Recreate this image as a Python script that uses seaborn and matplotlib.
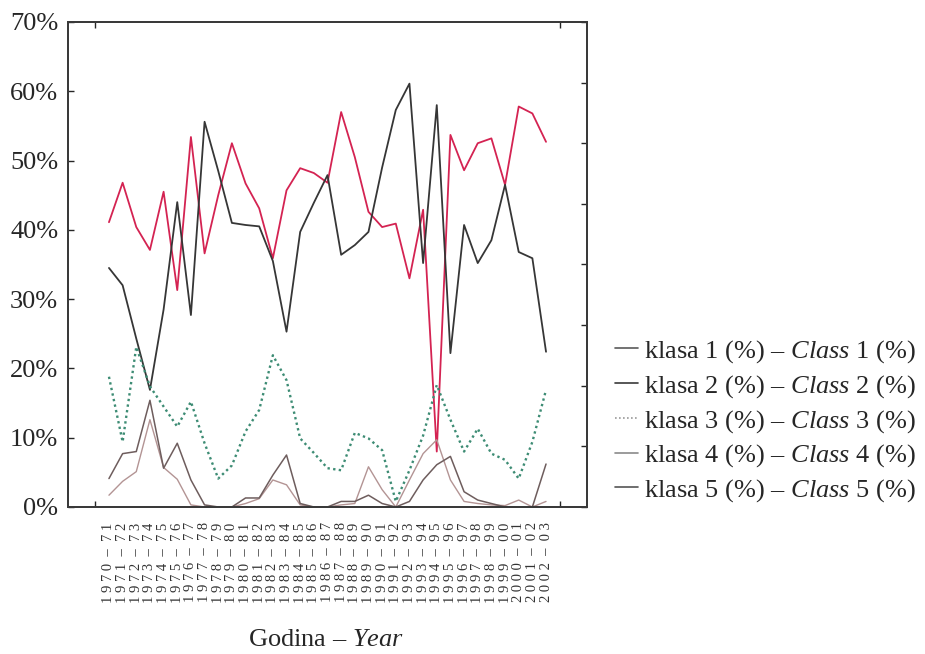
import numpy as np
import matplotlib
matplotlib.use('Agg')
import matplotlib.pyplot as plt
from matplotlib.lines import Line2D
import seaborn as sns

# sezone (x os)
godine = list(range(1970, 2003))
sezone = [f"{g} – {str(g + 1)[-2:]}" for g in godine]

# udio klasa u %
klasa1 = [41.1, 46.8, 40.4, 37.1, 45.5, 31.3, 53.4, 36.6, 45.0, 52.5, 46.7,
          43.1, 35.9, 45.7, 48.9, 48.2, 46.8, 57.0, 50.5, 42.6, 40.4, 40.9,
          33.0, 42.9, 8.0, 53.7, 48.6, 52.5, 53.2, 46.5, 57.8, 56.8, 52.7]
klasa2 = [34.5, 32.0, 24.3, 16.9, 28.5, 44.0, 27.7, 55.6, 48.5, 41.0, 40.7,
          40.5, 35.5, 25.3, 39.7, 43.9, 47.9, 36.4, 37.8, 39.7, 49.0, 57.3,
          61.1, 35.2, 58.0, 22.2, 40.7, 35.2, 38.5, 46.5, 36.8, 35.9, 22.4]
klasa3 = [18.8, 9.4, 23.1, 17.4, 14.5, 11.6, 15.2, 9.2, 4.1, 6.0, 10.9,
          14.0, 21.9, 18.3, 9.9, 7.8, 5.6, 5.3, 10.7, 9.9, 8.2, 0.8,
          5.3, 10.3, 17.6, 12.6, 8.0, 11.3, 7.7, 6.8, 4.1, 9.4, 16.9]
klasa4 = [1.7, 3.7, 5.1, 12.6, 5.7, 4.0, 0.3, 0.0, 0.0, 0.0, 0.5,
          1.2, 3.9, 3.2, 0.3, 0.0, 0.0, 0.3, 0.5, 5.8, 2.5, 0.0,
          3.9, 7.7, 9.7, 3.9, 0.8, 0.5, 0.3, 0.2, 1.0, 0.0, 0.8]
klasa5 = [4.1, 7.7, 8.0, 15.4, 5.6, 9.2, 3.9, 0.3, 0.0, 0.0, 1.3,
          1.3, 4.6, 7.5, 0.5, 0.0, 0.0, 0.8, 0.8, 1.7, 0.5, 0.0,
          0.8, 3.9, 6.1, 7.3, 2.2, 1.0, 0.5, 0.0, 0.0, 0.0, 6.2]

serije = [klasa1, klasa2, klasa3, klasa4, klasa5]
boje = ['#d42352', '#363636', '#3d8c74', '#b39494', '#6e5d5d']
stilovi = ['-', '-', (0, (1, 1.4)), '-', '-']
debljine = [1.3, 1.3, 1.7, 1.0, 1.1]
boje_legende = ['#5a5a5a', '#3a3a3a', '#9a9a9a', '#8a8a8a', '#555555']

sns.set_style('ticks')
plt.rcParams['font.family'] = ['Liberation Serif', 'DejaVu Serif']
plt.rcParams['mathtext.fontset'] = 'custom'
plt.rcParams['mathtext.rm'] = 'Liberation Serif'
plt.rcParams['mathtext.it'] = 'Liberation Serif:italic'

fig = plt.figure(figsize=(9.25, 6.54), dpi=100)
ax = fig.add_axes([0.0735, 0.2248, 0.5611, 0.7416])

x = np.arange(len(sezone))
for vals, c, ls, lw in zip(serije, boje, stilovi, debljine):
    sns.lineplot(x=x, y=vals, ax=ax, color=c, linestyle=ls, linewidth=lw)

ax.set_xlim(-3, 35)
ax.set_ylim(0, 70)

# oznake sezona, razmaknuta slova
oznake = [f"{' '.join(str(g))}  –  {' '.join(str(g + 1)[-2:])}" for g in godine]
ax.set_xticks(x)
ax.set_xticklabels(oznake, rotation=90, fontsize=10.5, va='top', ha='center', color='#333333')
ax.set_xticks(np.arange(-1, 35, 2), minor=True)
ax.tick_params(axis='x', which='major', length=0, pad=11)
ax.tick_params(axis='x', which='minor', direction='in', length=4, top=True, bottom=True, width=1)

ax.set_yticks(range(0, 71, 10))
ax.set_yticklabels([f"{v}%" for v in range(0, 71, 10)], fontsize=19)
ax.tick_params(axis='y', direction='in', length=4, pad=7, width=1)

# desna os samo s crticama
ax2 = ax.twinx()
ax2.set_ylim(0, 8)
ax2.set_yticks(range(9))
ax2.tick_params(axis='y', direction='in', length=4, labelright=False, width=1)

for a in (ax, ax2):
    for s in a.spines.values():
        s.set_visible(True)
        s.set_linewidth(1.4)
        s.set_color('#3a3a3a')

ax.set_xlabel('')
ax.set_ylabel('')

fig.text(0.352, 1 - 640 / 654, 'Godina – $\\mathit{Year}$', ha='center', va='center', fontsize=19)

rucke = [Line2D([0], [0], color=c, linestyle=ls, linewidth=1.2)
         for c, ls in zip(boje_legende, stilovi)]
natpisi = [f"klasa {k} (%) – $\\mathit{{Class}}$ {k} (%)" for k in range(1, 6)]
fig.legend(rucke, natpisi, loc='center left', bbox_to_anchor=(0.665, 0.356),
           frameon=False, fontsize=19, handlelength=0.85, handletextpad=0.25,
           labelspacing=0.3, borderpad=0, borderaxespad=0)

plt.savefig('out.png', dpi=100)
plt.close()
